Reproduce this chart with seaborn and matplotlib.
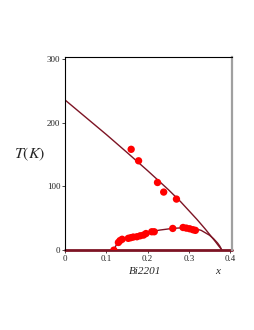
import matplotlib
matplotlib.use('Agg')
from matplotlib import pyplot as plt
import seaborn as sns
import pandas as pd

sns.set_style('white')
plt.rcParams['font.family'] = ['Liberation Serif', 'DejaVu Serif']

# pseudogap line T*
tstar_x = [0, 0.05, 0.1, 0.15, 0.2, 0.25, 0.28, 0.3, 0.32, 0.34, 0.355, 0.365,
           0.372, 0.377, 0.38]
tstar_t = [235, 208, 181, 153, 124.5, 95, 76, 62, 48, 33, 21, 13, 7, 3, 0]

# superconducting dome Tc fit
dome_x = [0.118, 0.122, 0.127, 0.135, 0.15, 0.17, 0.2, 0.23, 0.26, 0.29, 0.31,
          0.33, 0.35, 0.36, 0.37, 0.375, 0.378, 0.38]
dome_t = [0, 6, 11, 15.5, 20, 23.5, 28, 31.5, 34, 35.3, 34.5, 31, 23.5, 18, 11,
          6.5, 3, 0]

# measured points
pg_x = [0.160, 0.178, 0.224, 0.239, 0.270]
pg_t = [158, 140, 106, 91, 80]
tc_x = [0.118, 0.129, 0.133, 0.138, 0.153, 0.159, 0.165, 0.174, 0.182, 0.190,
        0.196, 0.210, 0.216, 0.261, 0.286, 0.294, 0.302, 0.310, 0.316]
tc_t = [0, 12, 15, 17, 18.5, 19.5, 20.5, 21, 22.5, 23.6, 26, 28.8, 28.8, 34,
        35.5, 34.5, 33.5, 32, 31]

line_col = '#7d1424'

fig = plt.figure(figsize=(2.55, 3.3), dpi=100)
ax = fig.add_axes([0.256, 0.242, 0.654, 0.584])

pts = pd.DataFrame({'x': pg_x + tc_x, 'T': pg_t + tc_t})
sns.lineplot(x=tstar_x, y=tstar_t, sort=False, color=line_col, lw=1.0, ax=ax)
sns.lineplot(x=dome_x, y=dome_t, sort=False, color=line_col, lw=1.0, ax=ax)
sns.lineplot(x=[0, 0.405], y=[0, 0], color=line_col, lw=2.0, ax=ax, clip_on=False)
sns.scatterplot(data=pts, x='x', y='T', color='#ff0000', s=28, edgecolor='none',
                ax=ax, zorder=3)

ax.set_xlim(0, 0.405)
ax.set_ylim(0, 302)
ax.set_xticks([0, 0.1, 0.2, 0.3, 0.4])
ax.set_xticklabels(['0', '0.1', '0.2', '0.3', '0.4'])
ax.set_yticks([0, 100, 200, 300])
ax.tick_params(labelsize=6.5, length=2, width=0.6, pad=1.5,
               bottom=True, left=True, direction='out')
for s in ['left', 'top']:
    ax.spines[s].set_color('black')
    ax.spines[s].set_linewidth(0.8)
ax.spines['right'].set_color('#a0a0a0')
ax.spines['right'].set_linewidth(1.6)
ax.spines['bottom'].set_visible(False)

ax.set_xlabel('')
ax.set_ylabel('')
fig.text(0.116, 0.533, r'$T(K)$', fontsize=11.5, ha='center', va='center',
         math_fontfamily='stix')
fig.text(0.57, 0.176, 'Bi2201', fontsize=8, style='italic', ha='center', va='center')
fig.text(0.853, 0.176, 'x', fontsize=8, style='italic', ha='center', va='center')

fig.savefig('out.png', dpi=100)
